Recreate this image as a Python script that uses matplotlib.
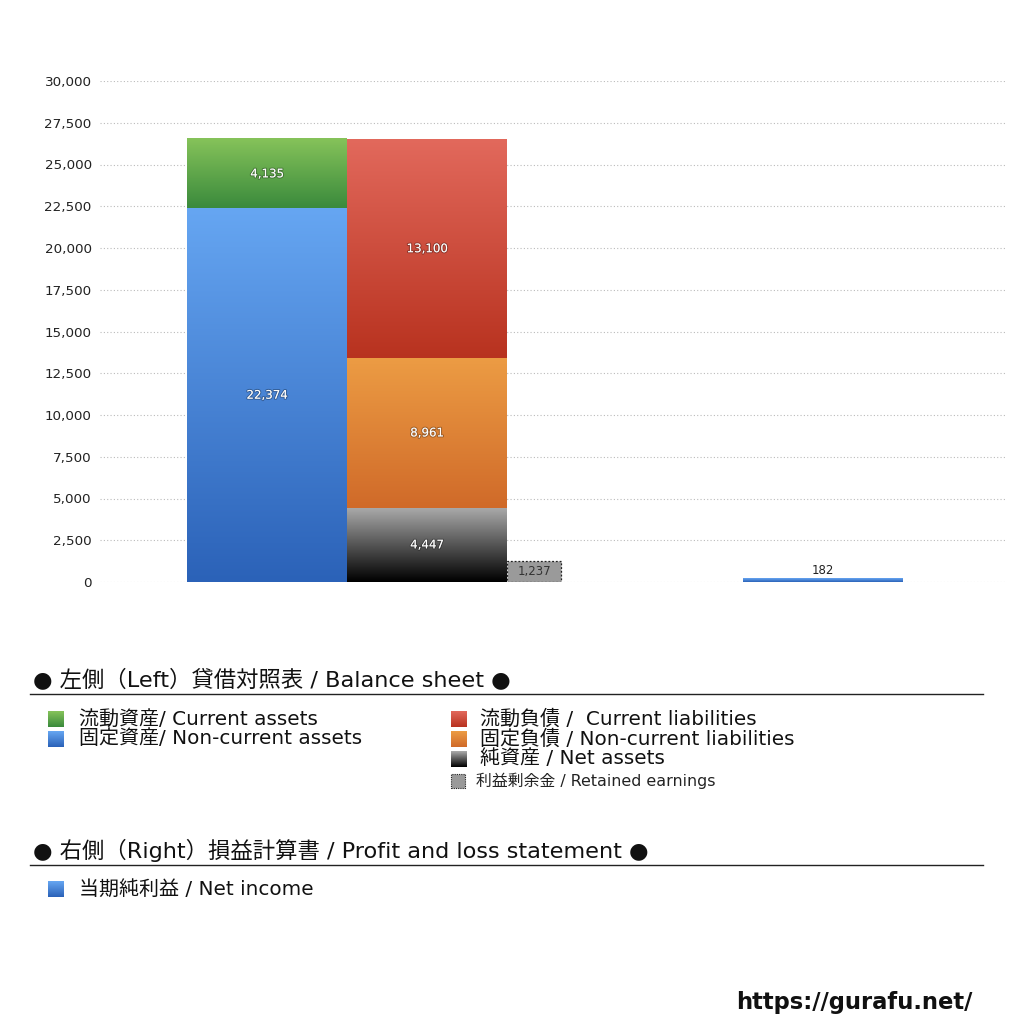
import numpy as np
import matplotlib
matplotlib.use("Agg")
import matplotlib.pyplot as plt
from matplotlib.colors import to_rgb
from matplotlib.patches import Rectangle
import matplotlib.patheffects as pe

plt.rcParams['font.family'] = ['DejaVu Sans', 'Noto Sans CJK JP']

# ---- data ----
asset_labels = ['流動資産/ Current assets', '固定資産/ Non-current assets']
asset_values = [4135, 22374]          # stacked top -> bottom
liab_labels = ['流動負債 /  Current liabilities', '固定負債 / Non-current liabilities', '純資産 / Net assets']
liab_values = [13100, 8961, 4447]     # stacked top -> bottom
retained_label = '利益剰余金 / Retained earnings'
retained_value = 1237
pl_labels = ['当期純利益 / Net income']
pl_values = [182]
yticks = [0, 2500, 5000, 7500, 10000, 12500, 15000, 17500, 20000, 22500, 25000, 27500, 30000]

# gradients (top, bottom)
grad_current_assets = ('#86c35a', '#3a8a3c')
grad_noncurrent_assets = ('#66a6f2', '#2b62b8')
grad_current_liab = ('#e2695c', '#b8321f')
grad_noncurrent_liab = ('#ec9c44', '#d06a29')
grad_net_assets = ('#ababab', '#000000')
grad_net_income = ('#66a6f2', '#2b62b8')

W, H = 1024, 1024
fig = plt.figure(figsize=(W / 100, H / 100), dpi=100)
ax = fig.add_axes([100 / W, 1 - 582 / H, 907 / W, (582 - 81) / H])

bar_w = 1.0
x_left = 0.544          # left edge of the asset column
x_mid = x_left + bar_w  # left edge of liabilities column
x_right = 4.019         # left edge of P&L column
ret_w = 0.3375


def grad_bar(x0, bottom, height, colors, zorder=2):
    c1 = np.array(to_rgb(colors[0]))
    c2 = np.array(to_rgb(colors[1]))
    t = np.linspace(0, 1, 256)[:, None]
    arr = (c1 * (1 - t) + c2 * t)[:, None, :]
    ax.imshow(arr, extent=[x0, x0 + bar_w, bottom, bottom + height],
              origin='upper', aspect='auto', zorder=zorder, interpolation='bilinear')


shadow = [pe.withStroke(linewidth=1.5, foreground=(0, 0, 0, 0.28))]
val_fs = 8.5

# assets column (bottom -> top: non-current, current)
bottom = 0
asset_grads = [grad_current_assets, grad_noncurrent_assets]
for val, g in reversed(list(zip(asset_values, asset_grads))):
    grad_bar(x_left, bottom, val, g)
    ax.text(x_left + bar_w / 2, bottom + val / 2, f'{val:,}', ha='center', va='center',
            color='white', fontsize=val_fs, zorder=5, path_effects=shadow)
    bottom += val

# liabilities column
bottom = 0
liab_grads = [grad_current_liab, grad_noncurrent_liab, grad_net_assets]
for val, g in reversed(list(zip(liab_values, liab_grads))):
    grad_bar(x_mid, bottom, val, g)
    ax.text(x_mid + bar_w / 2, bottom + val / 2, f'{val:,}', ha='center', va='center',
            color='white', fontsize=val_fs, zorder=5, path_effects=shadow)
    bottom += val

# retained earnings
ax.bar(x_mid + bar_w, retained_value, width=ret_w, align='edge', color='#9a9a9a',
       edgecolor='#222222', linestyle=(0, (1.5, 1.5)), linewidth=0.9, zorder=3)
ax.text(x_mid + bar_w + ret_w / 2, retained_value / 2, f'{retained_value:,}',
        ha='center', va='center', color='#333333', fontsize=val_fs, zorder=5)

# P&L
grad_bar(x_right, 0, pl_values[0], grad_net_income)
ax.text(x_right + bar_w / 2, pl_values[0] + 120, f'{pl_values[0]:,}', ha='center', va='bottom',
        color='#222222', fontsize=val_fs, zorder=5)

ax.set_xlim(0, 907 / 160)
ax.set_ylim(0, 30000)
ax.set_yticks(yticks)
ax.set_yticklabels([f'{v:,}' for v in yticks], fontsize=9.7, color='#222222')
ax.set_xticks([])
for s in ax.spines.values():
    s.set_visible(False)
ax.tick_params(axis='y', length=0, pad=6)
ax.yaxis.grid(True, linestyle=(0, (1, 2)), color='#bbbbbb', linewidth=0.8)
ax.set_axisbelow(True)


# ---- legend sections ----
def fx(px):
    return px / W


def fy(py):
    return 1 - py / H


def legend_square(px, py, colors, dashed=False):
    if dashed:
        fig.patches.append(Rectangle((fx(px), fy(py + 7)), 14 / W, 14 / H, transform=fig.transFigure,
                                     facecolor='#9a9a9a', edgecolor='#222222',
                                     linestyle=(0, (1, 1)), linewidth=0.8))
        return
    a = fig.add_axes([fx(px), fy(py + 8), 16 / W, 16 / H])
    c1 = np.array(to_rgb(colors[0]))
    c2 = np.array(to_rgb(colors[1]))
    t = np.linspace(0, 1, 64)[:, None]
    arr = (c1 * (1 - t) + c2 * t)[:, None, :]
    a.imshow(arr, aspect='auto', extent=[0, 1, 0, 1], origin='upper')
    a.axis('off')


title_fs = 16.1
item_fs = 14.4

fig.text(fx(33), fy(679), '● 左側（Left）貸借対照表 / Balance sheet ●', fontsize=title_fs,
         va='center', ha='left', color='#111111')
fig.add_artist(plt.Line2D([fx(30), fx(983)], [fy(694), fy(694)], color='#222222', linewidth=1,
                          transform=fig.transFigure))

left_items_y = [719, 739]
for lab, g, yy in zip(asset_labels, asset_grads, left_items_y):
    legend_square(48, yy, g)
    fig.text(fx(79), fy(yy), lab, fontsize=item_fs, va='center', ha='left', color='#111111')

right_items_y = [719, 739, 759]
for lab, g, yy in zip(liab_labels, liab_grads, right_items_y):
    legend_square(451, yy, g)
    fig.text(fx(480), fy(yy), lab, fontsize=item_fs, va='center', ha='left', color='#111111')

legend_square(451, 781, None, dashed=True)
fig.text(fx(476), fy(781), retained_label, fontsize=11.4, va='center', ha='left', color='#222222')

fig.text(fx(33), fy(850), '● 右側（Right）損益計算書 / Profit and loss statement ●', fontsize=title_fs,
         va='center', ha='left', color='#111111')
fig.add_artist(plt.Line2D([fx(30), fx(983)], [fy(865), fy(865)], color='#222222', linewidth=1,
                          transform=fig.transFigure))
legend_square(48, 889, grad_net_income)
fig.text(fx(79), fy(889), pl_labels[0], fontsize=item_fs, va='center', ha='left', color='#111111')

fig.text(fx(972), fy(1003), 'https://gurafu.net/', fontsize=16.3, fontweight='bold',
         ha='right', va='center', color='#111111', family=['DejaVu Sans'])

fig.savefig('out.png', dpi=100, facecolor='white')
